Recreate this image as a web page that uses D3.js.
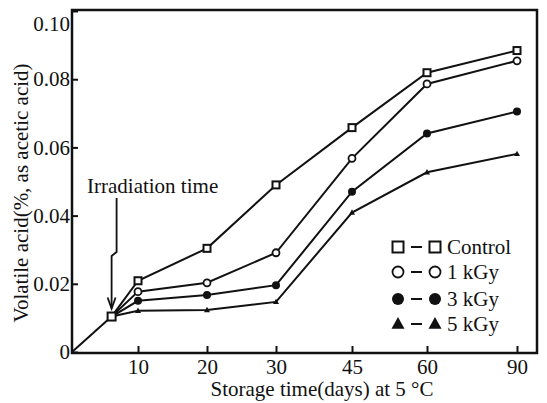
<!DOCTYPE html>
<html>
<head>
<meta charset="utf-8">
<script src="https://cdn.jsdelivr.net/npm/d3@7"></script>
<style>
  body { margin: 0; background: #fff; }
  svg text { font-family: "Liberation Serif", "DejaVu Serif", serif; fill: #111; }
</style>
</head>
<body>
<div id="chart"></div>
<script>
// storage days (uneven spacing on the original axis)
var days = [10, 20, 30, 45, 60, 90];
var xTickDays = [10, 20, 30, 45, 60, 90];
var yTicks = [0, 0.02, 0.04, 0.06, 0.08, 0.10];

// volatile acid (%, as acetic acid)
var control = [0.0209, 0.0304, 0.0490, 0.0658, 0.0819, 0.0884];
var kgy1 = [0.0177, 0.0203, 0.0291, 0.0568, 0.0786, 0.0854];
var kgy3 = [0.0150, 0.0167, 0.0196, 0.0470, 0.0641, 0.0705];
var kgy5 = [0.0121, 0.0123, 0.0147, 0.0409, 0.0527, 0.0581];

// irradiation point, shared by all series
var irradiationDay = 6;
var irradiationValue = 0.0104;

var seriesNames = ["Control", "1 kGy", "3 kGy", "5 kGy"];
var seriesValues = [control, kgy1, kgy3, kgy5];
var seriesMarkers = ["square", "circle", "dot", "triangle"];

var width = 547, height = 403;
var plot = { left: 72, right: 537, top: 10, bottom: 352 };
var serif = "'Liberation Serif', 'DejaVu Serif', serif";

var svg = d3.select("#chart").append("svg")
    .attr("width", width)
    .attr("height", height)
    .attr("font-family", serif);

// the day axis is not linear in the original, so map each tick to its place
var x = d3.scaleLinear()
    .domain([0, 10, 20, 30, 45, 60, 90])
    .range([plot.left, 138, 207, 276, 352, 427, 517]);

var y = d3.scaleLinear()
    .domain([0, 0.10])
    .range([plot.bottom, plot.top + 1]);

// axes, ticks pointing into the plot
var xAxis = svg.append("g")
    .attr("transform", "translate(0," + plot.bottom + ")")
    .call(d3.axisBottom(x).tickValues(xTickDays).tickSize(-6).tickPadding(7)
        .tickFormat(d3.format("d")));
xAxis.attr("font-family", serif);
xAxis.select(".domain").remove();
xAxis.selectAll("line").attr("stroke", "#111").attr("stroke-width", 2);
xAxis.selectAll("text").style("font-size", "21px").style("font-family", serif);

var yAxis = svg.append("g")
    .attr("transform", "translate(" + plot.left + ",0)")
    .call(d3.axisLeft(y).tickValues(yTicks).tickSize(-6).tickPadding(2)
        .tickFormat(function(d) { return d === 0 ? "0" : d.toFixed(2); }));
yAxis.attr("font-family", serif);
yAxis.select(".domain").remove();
yAxis.selectAll("line").attr("stroke", "#111").attr("stroke-width", 2);
yAxis.selectAll("text").style("font-size", "21px").style("font-family", serif);
// top label sits a little below its tick, as in the original
yAxis.selectAll("text").filter(function(d) { return d === 0.10; }).attr("dy", "0.95em");

// frame
svg.append("path")
    .attr("d", "M" + plot.left + "," + plot.top + "H" + plot.right + "V" + (plot.bottom + 1) + "H" + plot.left + "Z")
    .attr("fill", "none")
    .attr("stroke", "#111")
    .attr("stroke-width", 2.5);

// axis titles
svg.append("text")
    .attr("x", 322)
    .attr("y", 396)
    .attr("text-anchor", "middle")
    .style("font-size", "21px")
    .style("font-family", serif)
    .text("Storage time(days) at 5 °C");

svg.append("text")
    .attr("transform", "translate(28,193) rotate(-90)")
    .attr("text-anchor", "middle")
    .style("font-size", "21px")
    .style("font-family", serif)
    .text("Volatile acid(%, as acetic acid)");

// lines
var line = d3.line()
    .x(function(d) { return x(d.day); })
    .y(function(d) { return y(d.value); });

svg.append("path")
    .attr("d", line([{day: 0, value: 0}, {day: irradiationDay, value: irradiationValue}]))
    .attr("fill", "none")
    .attr("stroke", "#111")
    .attr("stroke-width", 2);

var seriesData = seriesValues.map(function(vals, i) {
    var pts = [{day: irradiationDay, value: irradiationValue}];
    vals.forEach(function(v, j) { pts.push({day: days[j], value: v}); });
    return {name: seriesNames[i], marker: seriesMarkers[i], points: pts};
});

svg.append("g").selectAll("path")
    .data(seriesData)
    .enter().append("path")
    .attr("d", function(d) { return line(d.points); })
    .attr("fill", "none")
    .attr("stroke", "#111")
    .attr("stroke-width", 2);

// marker drawing
function drawMarker(g, type, cx, cy, size) {
    if (type === "square") {
        g.append("rect")
            .attr("x", cx - size / 2).attr("y", cy - size / 2)
            .attr("width", size).attr("height", size)
            .attr("fill", "#fff").attr("stroke", "#111").attr("stroke-width", 2);
    } else if (type === "circle") {
        g.append("circle")
            .attr("cx", cx).attr("cy", cy).attr("r", size / 2)
            .attr("fill", "#fff").attr("stroke", "#111").attr("stroke-width", 1.8);
    } else if (type === "dot") {
        g.append("circle")
            .attr("cx", cx).attr("cy", cy).attr("r", size / 2 + 0.5)
            .attr("fill", "#111");
    } else {
        var h = size * 0.9;
        g.append("path")
            .attr("d", "M" + cx + "," + (cy - h * 0.6) + "L" + (cx + size / 2) + "," + (cy + h * 0.4) +
                "L" + (cx - size / 2) + "," + (cy + h * 0.4) + "Z")
            .attr("fill", "#111");
    }
}

var markerLayer = svg.append("g");
seriesData.forEach(function(s) {
    s.points.slice(1).forEach(function(p) {
        drawMarker(markerLayer, s.marker, x(p.day), y(p.value), s.marker === "triangle" ? 6 : 7);
    });
});
drawMarker(markerLayer, "square", x(irradiationDay), y(irradiationValue), 8);

// irradiation annotation
svg.append("text")
    .attr("x", 87)
    .attr("y", 193)
    .style("font-size", "21px")
    .style("font-family", serif)
    .text("Irradiation time");

var ax = x(irradiationDay), tipY = y(irradiationValue) - 8;
svg.append("path")
    .attr("d", "M" + (ax + 5) + ",198V252L" + ax + ",256V" + tipY)
    .attr("fill", "none")
    .attr("stroke", "#111")
    .attr("stroke-width", 1.8);
svg.append("path")
    .attr("d", "M" + (ax - 4) + "," + (tipY - 11) + "L" + ax + "," + tipY + "L" + (ax + 4) + "," + (tipY - 11))
    .attr("fill", "none")
    .attr("stroke", "#111")
    .attr("stroke-width", 1.8);

// legend
var legendY = [247, 272, 299, 324];
var legend = svg.append("g");
seriesData.forEach(function(s, i) {
    var ly = legendY[i];
    var sz = s.marker === "triangle" ? 13 : 11;
    drawMarker(legend, s.marker, 398, ly, sz);
    drawMarker(legend, s.marker, 435, ly, sz);
    legend.append("line")
        .attr("x1", 411).attr("x2", 422)
        .attr("y1", ly).attr("y2", ly)
        .attr("stroke", "#111").attr("stroke-width", 2);
    legend.append("text")
        .attr("x", 447)
        .attr("y", ly + 7)
        .style("font-size", "21px")
        .style("font-family", serif)
        .text(s.name);
});
</script>
</body>
</html>
